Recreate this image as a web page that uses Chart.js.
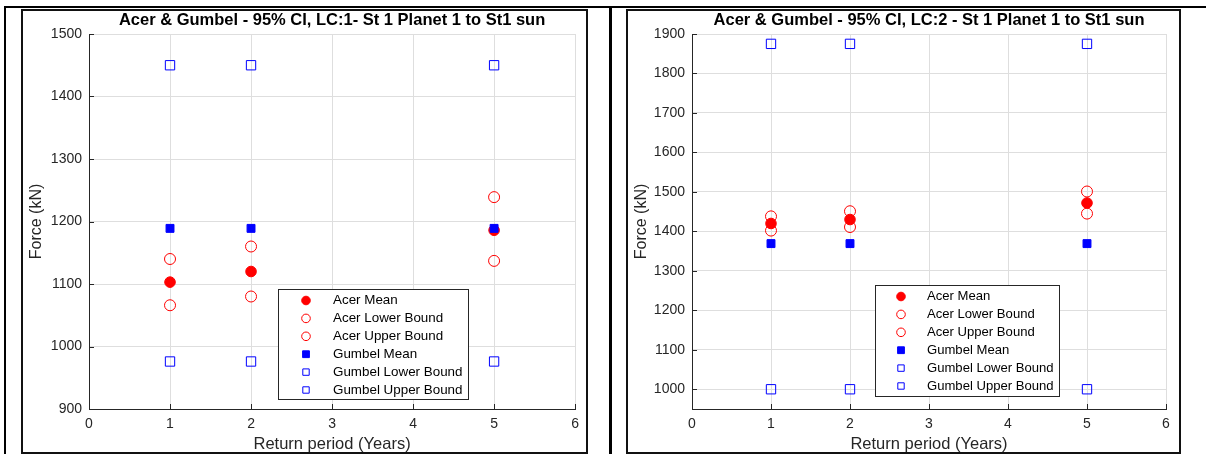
<!DOCTYPE html>
<html>
<head>
<meta charset="utf-8">
<script src="https://cdn.jsdelivr.net/npm/chart.js@4/dist/chart.umd.min.js"></script>
<style>
  body { margin: 0; background: #fff; width: 1206px; height: 454px; overflow: hidden; position: relative; }
  .rule { position: absolute; background: #000; }
  .fig { position: absolute; border: 2px solid #111; background: #fff; }
  .fig canvas { position: absolute; left: 0; top: 0; }
</style>
</head>
<body>
<div class="rule" style="left:4px;top:6px;width:1202px;height:2px"></div>
<div class="rule" style="left:4px;top:6px;width:2px;height:448px"></div>
<div class="rule" style="left:609px;top:6px;width:3px;height:448px"></div>

<div class="fig" style="left:21px;top:9px;width:563px;height:441px">
  <canvas id="lc1" width="563" height="441"></canvas>
</div>
<div class="fig" style="left:626px;top:9px;width:551px;height:441px">
  <canvas id="lc2" width="551" height="441"></canvas>
</div>

<script>
const returnPeriods = [1, 2, 5];
const xTicks = [0, 1, 2, 3, 4, 5, 6];

// LC:1
const lc1AcerMean = [1103, 1120, 1186];
const lc1AcerLower = [1066, 1080, 1137];
const lc1AcerUpper = [1140, 1160, 1239];
const lc1GumbelMean = [1189, 1189, 1189];
const lc1GumbelLower = [976, 976, 976];
const lc1GumbelUpper = [1450, 1450, 1450];
const lc1YTicks = [900, 1000, 1100, 1200, 1300, 1400, 1500];

// LC:2
const lc2AcerMean = [1420, 1430, 1472];
const lc2AcerLower = [1402, 1411, 1445];
const lc2AcerUpper = [1438, 1451, 1501];
const lc2GumbelMean = [1369, 1369, 1369];
const lc2GumbelLower = [1000, 1000, 1000];
const lc2GumbelUpper = [1875, 1875, 1875];
const lc2YTicks = [1000, 1100, 1200, 1300, 1400, 1500, 1600, 1700, 1800, 1900];

const seriesLabels = ['Acer Mean', 'Acer Lower Bound', 'Acer Upper Bound',
                      'Gumbel Mean', 'Gumbel Lower Bound', 'Gumbel Upper Bound'];

const FONT = '"Liberation Sans", Arial, Helvetica, sans-serif';
const RED = '#ff0000';
const BLUE = '#0000ff';
const AXIS = '#262626';

function points(vals) {
  return vals.map((v, i) => ({ x: returnPeriods[i], y: v }));
}

// marker look for each series, same order as seriesLabels
const markerStyles = [
  { pointStyle: 'circle', pointRadius: 5.3, backgroundColor: RED, borderColor: RED },
  { pointStyle: 'circle', pointRadius: 5.5, backgroundColor: 'rgba(0,0,0,0)', borderColor: RED },
  { pointStyle: 'circle', pointRadius: 5.5, backgroundColor: 'rgba(0,0,0,0)', borderColor: RED },
  { pointStyle: 'rect', pointRadius: 5.6, backgroundColor: BLUE, borderColor: BLUE },
  { pointStyle: 'rect', pointRadius: 6.6, backgroundColor: 'rgba(0,0,0,0)', borderColor: BLUE },
  { pointStyle: 'rect', pointRadius: 6.6, backgroundColor: 'rgba(0,0,0,0)', borderColor: BLUE }
];

// title centred over the plot area rather than the whole canvas
const plotTitle = {
  id: 'plotTitle',
  afterDraw(chart, args, opts) {
    const { ctx, chartArea: a } = chart;
    ctx.save();
    ctx.font = 'bold ' + opts.size + 'px ' + FONT;
    ctx.fillStyle = '#000';
    ctx.textAlign = 'center';
    ctx.textBaseline = 'middle';
    ctx.fillText(opts.text, (a.left + a.right) / 2, opts.y);
    ctx.restore();
  }
};

// tick marks pointing into the plot, like MATLAB axes
const innerTicks = {
  id: 'innerTicks',
  beforeDatasetsDraw(chart) {
    const { ctx, chartArea: a, scales: { x, y } } = chart;
    ctx.save();
    ctx.strokeStyle = AXIS;
    ctx.lineWidth = 1;
    ctx.beginPath();
    x.ticks.forEach(t => {
      const px = Math.round(x.getPixelForValue(t.value)) + 0.5;
      ctx.moveTo(px, a.bottom);
      ctx.lineTo(px, a.bottom - 5);
    });
    y.ticks.forEach(t => {
      const py = Math.round(y.getPixelForValue(t.value)) + 0.5;
      ctx.moveTo(a.left, py);
      ctx.lineTo(a.left + 5, py);
    });
    ctx.stroke();
    ctx.restore();
  }
};

function drawMarker(ctx, style, cx, cy, r) {
  ctx.beginPath();
  if (style.pointStyle === 'rect') {
    ctx.rect(cx - r, cy - r, 2 * r, 2 * r);
  } else {
    ctx.arc(cx, cy, r, 0, Math.PI * 2);
  }
  ctx.fillStyle = style.backgroundColor;
  ctx.fill();
  ctx.strokeStyle = style.borderColor;
  ctx.lineWidth = 1;
  ctx.stroke();
}

// boxed legend sitting inside the plot area
const boxLegend = {
  id: 'boxLegend',
  afterDraw(chart, args, opts) {
    const { ctx, chartArea: a } = chart;
    const x0 = Math.round(a.right - opts.right - opts.width);
    const y0 = Math.round(a.bottom - opts.bottom - opts.height);
    ctx.save();
    ctx.fillStyle = '#fff';
    ctx.fillRect(x0, y0, opts.width, opts.height);
    ctx.strokeStyle = AXIS;
    ctx.lineWidth = 1;
    ctx.strokeRect(x0 + 0.5, y0 + 0.5, opts.width, opts.height);
    ctx.font = opts.fontSize + 'px ' + FONT;
    ctx.textBaseline = 'middle';
    chart.data.datasets.forEach((ds, i) => {
      const cy = y0 + opts.firstRow + opts.rowHeight * i;
      const r = ds.pointStyle === 'rect' ? (i === 3 ? 3.4 : 3.2) : 4.3;
      drawMarker(ctx, ds, x0 + opts.markerX, cy, r);
      ctx.fillStyle = '#000';
      ctx.fillText(ds.label, x0 + opts.textX, cy);
    });
    ctx.restore();
  }
};

function makeChart(id, title, series, yMin, yMax, yTicks, axisWidth, rightPad, legendBox) {
  const datasets = series.map((vals, i) => Object.assign({
    label: seriesLabels[i],
    data: points(vals),
    borderWidth: 1,
    showLine: false,
    order: series.length - i
  }, markerStyles[i]));

  return new Chart(document.getElementById(id), {
    type: 'scatter',
    data: { datasets: datasets },
    plugins: [innerTicks, boxLegend, plotTitle],
    options: {
      responsive: false,
      animation: false,
      events: [],
      layout: { padding: { right: rightPad, top: 23, bottom: 0, left: 0 } },
      plugins: {
        legend: { display: false },
        tooltip: { enabled: false },
        title: { display: false },
        plotTitle: { text: title, size: 16.5, y: 9 },
        boxLegend: legendBox
      },
      scales: {
        x: {
          type: 'linear',
          min: 0,
          max: 6,
          afterBuildTicks: s => { s.ticks = xTicks.map(v => ({ value: v })); },
          afterFit: s => { s.height = 43; },
          grid: { color: '#dedede', drawTicks: false },
          border: { color: AXIS, width: 1 },
          ticks: { color: AXIS, padding: 7, font: { family: FONT, size: 14 }, callback: v => String(v) },
          title: {
            display: true,
            text: 'Return period (Years)',
            color: AXIS,
            font: { family: FONT, size: 16.5 },
            padding: { top: 0, bottom: -2 }
          }
        },
        y: {
          type: 'linear',
          min: yMin,
          max: yMax,
          afterBuildTicks: s => { s.ticks = yTicks.map(v => ({ value: v })); },
          afterFit: s => { s.width = axisWidth; },
          grid: { color: '#dedede', drawTicks: false },
          border: { color: AXIS, width: 1 },
          ticks: { color: AXIS, padding: 7, font: { family: FONT, size: 14 }, callback: v => String(v) },
          title: {
            display: true,
            text: 'Force (kN)',
            color: AXIS,
            font: { family: FONT, size: 16 },
            padding: { top: 4, bottom: 0 }
          }
        }
      }
    }
  });
}

makeChart('lc1', 'Acer & Gumbel - 95% CI, LC:1- St 1 Planet 1 to St1 sun',
  [lc1AcerMean, lc1AcerLower, lc1AcerUpper, lc1GumbelMean, lc1GumbelLower, lc1GumbelUpper],
  900, 1500, lc1YTicks, 66, 10,
  { right: 107, bottom: 10, width: 190, height: 110, firstRow: 11.5, rowHeight: 17.9,
    markerX: 28, textX: 55, fontSize: 13.4 });

makeChart('lc2', 'Acer & Gumbel - 95% CI, LC:2 - St 1 Planet 1 to St1 sun',
  [lc2AcerMean, lc2AcerLower, lc2AcerUpper, lc2GumbelMean, lc2GumbelLower, lc2GumbelUpper],
  950, 1900, lc2YTicks, 64, 13,
  { right: 107, bottom: 13, width: 184, height: 111, firstRow: 11.5, rowHeight: 17.9,
    markerX: 26, textX: 52, fontSize: 13.1 });
</script>
</body>
</html>
